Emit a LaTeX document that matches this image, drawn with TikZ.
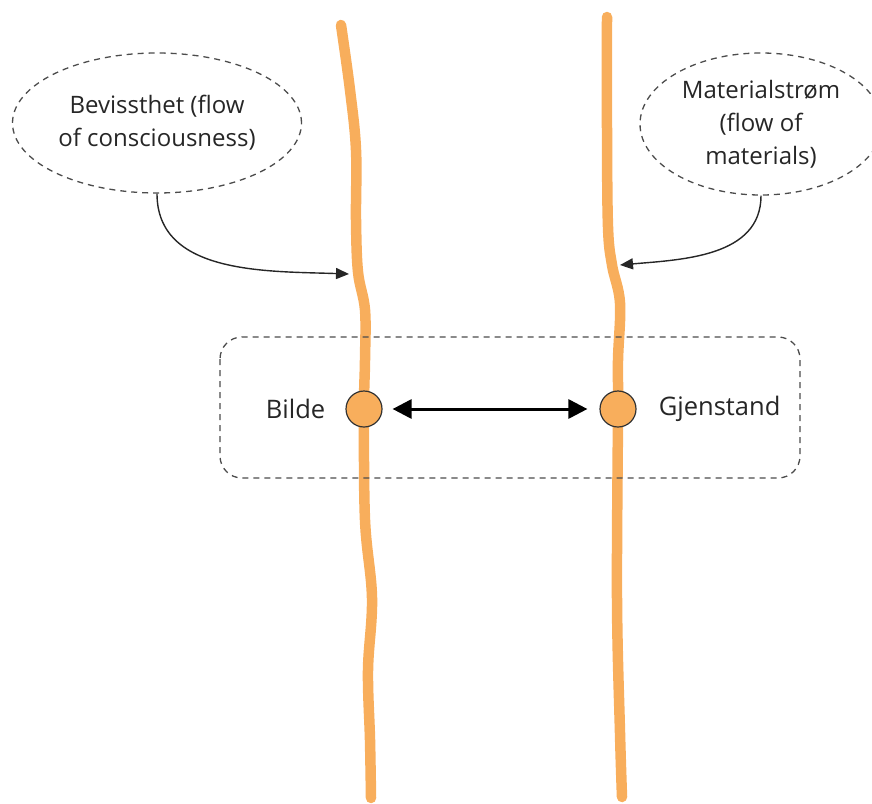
\documentclass[tikz,border=0pt]{standalone}
\usepackage{fontspec}
\setmainfont{Open Sans}
\usetikzlibrary{shapes.geometric,arrows.meta,positioning}
\definecolor{flowcolor}{HTML}{F8AE5C}
\definecolor{textgray}{HTML}{262626}

\begin{document}
\begin{tikzpicture}[x=1pt,y=-1pt,>={Triangle[length=13pt,width=11pt]},node distance=18pt,
    font=\fontsize{25.5}{34}\selectfont,text=textgray,
    flow line/.style={line width=10.5pt,draw=flowcolor,line cap=round,line join=round},
    cloud node/.style={ellipse,draw=black!70,dash pattern=on 6pt off 5pt,line width=1.3pt,align=center,
        inner xsep=-6pt,inner ysep=-4pt,font=\fontsize{24}{33}\selectfont},
    event node/.style={circle,draw=black!80,fill=flowcolor,line width=1.2pt,minimum size=36pt,inner sep=0pt},
    label node/.style={inner sep=2pt},
    pointer/.style={->,line width=1.4pt,draw=black!85}]

    \useasboundingbox (0,0) rectangle (872,803);

    % the two flows
    \draw[flow line] plot[smooth,tension=0.6] coordinates {(341,25) (350,90) (356,150) (356,220) (358,272) (365,310) (365,360) (364,410) (365,520) (372,598) (368,670) (370,740) (371,798)};
    \draw[flow line] plot[smooth,tension=0.6] coordinates {(607,17) (607,130) (608,227) (612,265) (620,303) (618,360) (618,410) (617,600) (620,733) (622,797)};

    % grouping box
    \draw[draw=black!70,dash pattern=on 6pt off 5pt,line width=1.3pt,rounded corners=22pt] (220,337) rectangle (800,478);

    \node[event node] (bilde) at (364,409) {};
    \node[event node] (gjenstand) at (618,409) {};
    \node[label node] (bilde label) [left=18pt of bilde] {Bilde};
    \node[label node] (gjenstand label) [right=20pt of gjenstand] {Gjenstand};

    \draw[<->,>={Triangle[length=19pt,width=19pt]},line width=3pt,shorten <=10pt,shorten >=12pt] (bilde) -- (gjenstand);

    \node[cloud node,minimum width=289pt,minimum height=140pt] (bevissthet) at (157,123) {Bevissthet (flow\\of consciousness)};
    \node[cloud node,minimum width=242pt,minimum height=142pt] (materialstrom) at (761,124) {Materialstrøm\\(flow of\\materials)};

    \coordinate (bevissthet tip) at (349,274);
    \coordinate (materialstrom tip) at (620,265);

    \draw[pointer] (bevissthet.south) to[out=-90,in=178] (bevissthet tip);
    \draw[pointer] (materialstrom.south) to[out=-90,in=5] (materialstrom tip);

\end{tikzpicture}
\end{document}
